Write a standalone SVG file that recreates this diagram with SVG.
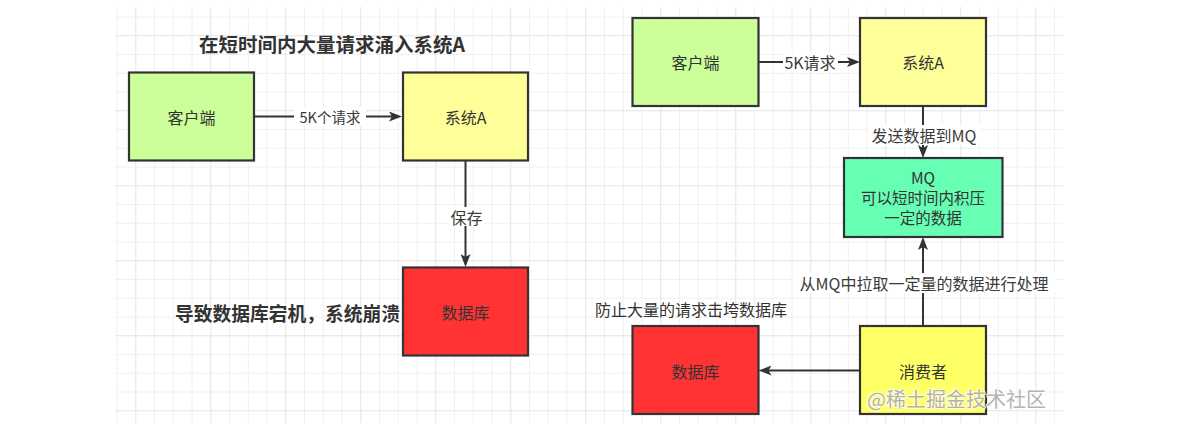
<svg xmlns="http://www.w3.org/2000/svg" width="1199" height="435" viewBox="0 0 1199 435">
<style>
  text { font-family: "Noto Sans CJK SC", "Noto Sans", sans-serif; fill: #333333; }
  .node rect { stroke: #333333; stroke-width: 2.2; }
  .nl { font-size: 16px; text-anchor: middle; dominant-baseline: central; }
  .ml { font-size: 15.5px; text-anchor: middle; dominant-baseline: central; }
  .el { font-size: 16px; text-anchor: middle; dominant-baseline: central; fill: #3a3a3a; }
  .lbg { fill: #ffffff; }
  .edge { stroke: #333333; stroke-width: 2; fill: none; marker-end: url(#arr); }
  .grid-minor { stroke: #f0f0f0; stroke-width: 1; fill: none; }
  .grid-major { stroke: #e4e4e4; stroke-width: 1; fill: none; }
  .note { font-weight: bold; dominant-baseline: central; }
</style>
<defs>
  <marker id="arr" viewBox="0 0 13 10" markerWidth="13" markerHeight="10" markerUnits="userSpaceOnUse" refX="8" refY="5" orient="auto">
    <path d="M0,0 L13,5 L0,10 L3,5 Z" fill="#333333"/>
  </marker>
</defs>
<rect x="0" y="0" width="1199" height="435" fill="#ffffff"/>
<g id="grid">
  <path class="grid-minor" d="M117,7V423M154.5,7V423M173.25,7V423M192,7V423M229.5,7V423M248.25,7V423M267,7V423M304.5,7V423M323.25,7V423M342,7V423M379.5,7V423M398.25,7V423M417,7V423M454.5,7V423M473.25,7V423M492,7V423M529.5,7V423M548.25,7V423M567,7V423M604.5,7V423M623.25,7V423M642,7V423M679.5,7V423M698.25,7V423M717,7V423M754.5,7V423M773.25,7V423M792,7V423M829.5,7V423M848.25,7V423M867,7V423M904.5,7V423M923.25,7V423M942,7V423M979.5,7V423M998.25,7V423M1017,7V423M1054.5,7V423
  M115,17H1063M115,54.5H1063M115,73.25H1063M115,92H1063M115,129.5H1063M115,148.25H1063M115,167H1063M115,204.5H1063M115,223.25H1063M115,242H1063M115,279.5H1063M115,298.25H1063M115,317H1063M115,354.5H1063M115,373.25H1063M115,392H1063"/>
  <path class="grid-major" d="M135.75,7V423M210.75,7V423M285.75,7V423M360.75,7V423M435.75,7V423M510.75,7V423M585.75,7V423M660.75,7V423M735.75,7V423M810.75,7V423M885.75,7V423M960.75,7V423M1035.75,7V423
  M115,35.75H1063M115,110.75H1063M115,185.75H1063M115,260.75H1063M115,335.75H1063M115,410.75H1063"/>
</g>
<g id="connectors">
  <path class="edge" d="M254,116.5H397"/>
  <rect class="lbg" x="294" y="107" width="72" height="19"/>
  <text class="el" x="330" y="116.5" style="font-size:14.5px">5K个请求</text>

  <path class="edge" d="M465.5,160.5V262"/>
  <rect class="lbg" x="449" y="207" width="35" height="19"/>
  <text class="el" x="466.5" y="216.5">保存</text>

  <path class="edge" d="M758.5,62H855"/>
  <rect class="lbg" x="783" y="52" width="55" height="20"/>
  <text class="el" x="810" y="62">5K请求</text>

  <path class="edge" d="M923,106V153"/>
  <rect class="lbg" x="868" y="125" width="112" height="20"/>
  <text class="el" x="924" y="135">发送数据到MQ</text>

  <path class="edge" d="M923,326V242"/>
  <rect class="lbg" x="794" y="273" width="261" height="20"/>
  <text class="el" x="924" y="283">从MQ中拉取一定量的数据进行处理</text>

  <path class="edge" d="M860,370.5H763.5"/>
</g>
<g id="n-client-l" class="node">
  <rect x="129" y="72.5" width="125" height="88" fill="#CCFF99"/>
  <text class="nl" x="191.5" y="117">客户端</text>
</g>
<g id="n-sysA-l" class="node">
  <rect x="403" y="72.5" width="125" height="88" fill="#FFFF99"/>
  <text class="nl" x="465.5" y="117">系统A</text>
</g>
<g id="n-db-l" class="node">
  <rect x="403" y="267.5" width="125" height="88" fill="#FF3333"/>
  <text class="nl" x="465.5" y="312">数据库</text>
</g>
<g id="n-client-r" class="node">
  <rect x="632.5" y="18" width="126" height="88" fill="#CCFF99"/>
  <text class="nl" x="695.5" y="62">客户端</text>
</g>
<g id="n-sysA-r" class="node">
  <rect x="860" y="18" width="126" height="88" fill="#FFFF99"/>
  <text class="nl" x="923" y="62">系统A</text>
</g>
<g id="n-mq" class="node">
  <rect x="844" y="158" width="158.5" height="79" fill="#66FFB3"/>
  <text class="ml" x="923" y="177">MQ</text>
  <text class="ml" x="923" y="197">可以短时间内积压</text>
  <text class="ml" x="923" y="217">一定的数据</text>
</g>
<g id="n-consumer" class="node">
  <rect x="860" y="326" width="126" height="88" fill="#FFFF66"/>
  <text class="nl" x="923" y="370.5">消费者</text>
</g>
<g id="n-db-r" class="node">
  <rect x="632.5" y="326" width="126" height="88" fill="#FF3333"/>
  <text class="nl" x="695.5" y="370.5">数据库</text>
</g>
<g id="notes">
  <text class="note" x="332" y="43" text-anchor="middle" style="font-size:19.5px">在短时间内大量请求涌入系统A</text>
  <text class="note" x="400" y="312.5" text-anchor="end" style="font-size:18.75px">导致数据库宕机，系统崩溃</text>
  <text x="595" y="309" style="font-size:16px;dominant-baseline:central">防止大量的请求击垮数据库</text>
  <text x="867" y="398" style="font-size:20px;dominant-baseline:central;fill:#a8a8a8;stroke:#ffffff;stroke-width:2;paint-order:stroke;opacity:0.85">@稀土掘金技术社区</text>
</g>
</svg>
